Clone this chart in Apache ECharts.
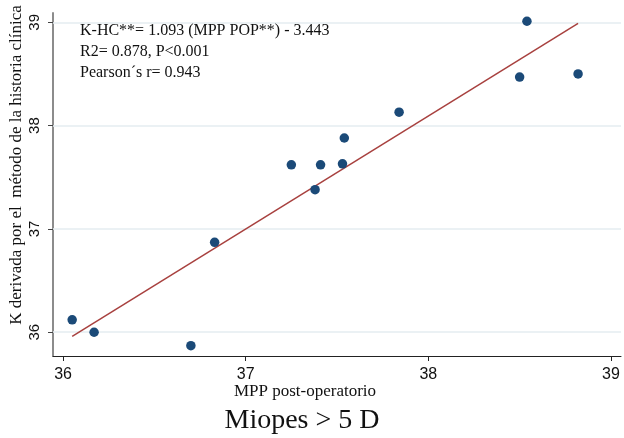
<!DOCTYPE html>
<html><head><meta charset="utf-8">
<script src="https://cdn.jsdelivr.net/npm/echarts@6/dist/echarts.min.js"></script>
<style>html,body{margin:0;padding:0;background:#fff}#c{width:624px;height:438px}</style>
</head><body><div id="c"></div>
<script>
const xValues = [36.05, 36.17, 36.70, 36.83, 37.25, 37.38, 37.41, 37.53, 37.54, 37.84, 38.50, 38.54, 38.82];
const yValues = [36.12, 36.00, 35.87, 36.87, 37.62, 37.38, 37.62, 37.63, 37.88, 38.13, 38.47, 39.01, 38.50];
const fitX = [36.05, 38.82];
const fitY = [35.96, 38.99];
const xTicks = [36, 37, 38, 39];
const yTicks = [36, 37, 38, 39];
const annotation = ['K-HC**= 1.093 (MPP POP**) - 3.443', 'R2= 0.878, P<0.001', 'Pearson´s r= 0.943'];
const xTitle = 'MPP post-operatorio';
const yTitle = 'K derivada por el  método de la historia clínica';
const chartTitle = 'Miopes > 5 D';

const serif = '"Liberation Serif", "Times New Roman", serif';
const sans = '"Liberation Sans", Arial, sans-serif';
const chart = echarts.init(document.getElementById('c'), null, {renderer: 'canvas'});
chart.setOption({
  animation: false,
  backgroundColor: '#fff',
  grid: {left: 53, right: 3, top: 13, bottom: 82, containLabel: false},
  xAxis: {
    type: 'value', min: 35.945, max: 39.055,
    axisLine: {show: true, onZero: false, lineStyle: {color: '#222', width: 1}},
    axisTick: {show: true, length: 5, customValues: xTicks, lineStyle: {color: '#222'}},
    axisLabel: {customValues: xTicks, margin: 11, fontFamily: sans, fontSize: 16, color: '#111'},
    splitLine: {show: false}
  },
  yAxis: {
    type: 'value', min: 35.77, max: 39.09,
    axisLine: {show: true, onZero: false, lineStyle: {color: '#8c8c8c', width: 2}},
    axisTick: {show: true, length: 5, customValues: yTicks, lineStyle: {color: '#444'}},
    axisLabel: {customValues: yTicks, rotate: 90, margin: 11, fontFamily: sans, fontSize: 15, color: '#111'},
    splitLine: {show: false}
  },
  graphic: [
    {type: 'text', left: 80, top: 20, z: 10, style: {text: annotation.join('\n'), font: '16px ' + serif, lineHeight: 21, fill: '#111'}},
    {type: 'text', x: 305, y: 392, style: {text: xTitle, font: '17px ' + serif, fill: '#111', align: 'center', verticalAlign: 'middle'}},
    {type: 'text', x: 302, y: 421, style: {text: chartTitle, font: '28px ' + serif, fill: '#111', align: 'center', verticalAlign: 'middle'}},
    {type: 'text', x: 17, y: 165, rotation: Math.PI / 2, style: {text: yTitle, font: '17px ' + serif, fill: '#111', align: 'center', verticalAlign: 'middle'}}
  ],
  series: [
    {
      type: 'line', data: [], z: 1, silent: true,
      markLine: {
        silent: true, symbol: 'none', label: {show: false}, z: 1,
        lineStyle: {color: '#e4edf1', width: 1.5, type: 'solid'},
        data: yTicks.map(v => ({yAxis: v}))
      }
    },
    {
      type: 'line', data: fitX.map((x, i) => [x, fitY[i]]), showSymbol: false, symbol: 'none',
      lineStyle: {color: '#a8413f', width: 1.5}, z: 3, silent: true
    },
    {
      type: 'scatter', data: xValues.map((x, i) => [x, yValues[i]]), symbolSize: 9.5,
      itemStyle: {color: '#1b4a78', opacity: 1}, z: 4
    }
  ]
});
</script></body></html>
